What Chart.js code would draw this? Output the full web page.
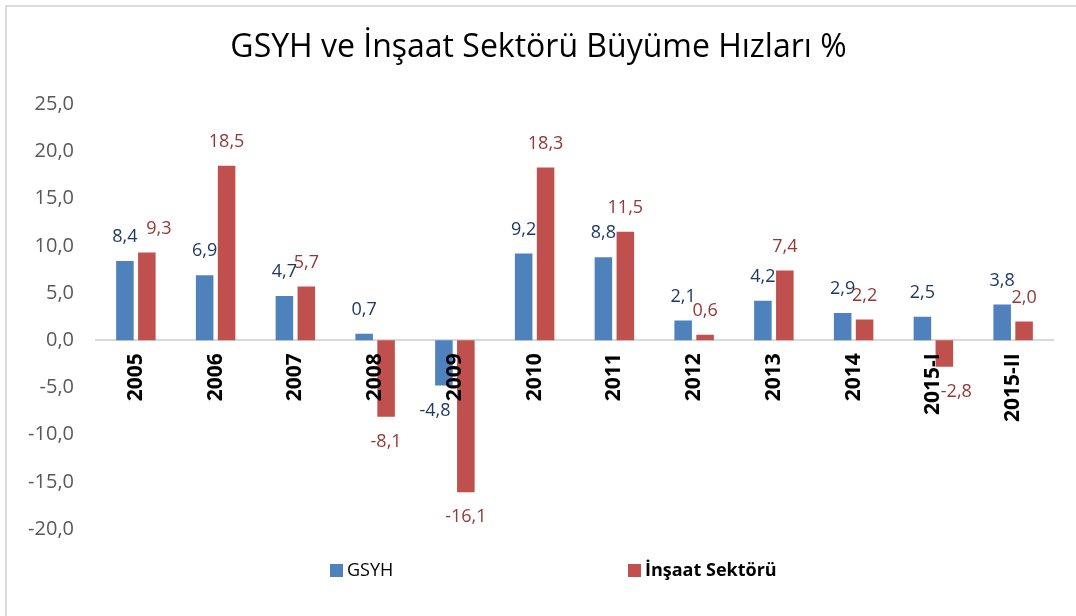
<!DOCTYPE html>
<html>
<head>
<meta charset="utf-8">
<script src="https://cdn.jsdelivr.net/npm/chart.js@4"></script>
<style>
  html, body { margin: 0; padding: 0; background: #fff; overflow: hidden; }
  #wrap { position: relative; width: 1076px; height: 616px; }
  #frame { position: absolute; left: 5px; top: 5px; width: 1100px; height: 700px;
           border: 2px solid #dcdcdc; pointer-events: none; }
</style>
</head>
<body>
<div id="wrap">
  <canvas id="chartGsyh" width="1076" height="616"></canvas>
  <div id="frame"></div>
</div>
<script>
// kategoriler ve seriler
var years = ["2005", "2006", "2007", "2008", "2009", "2010", "2011", "2012", "2013", "2014", "2015-I", "2015-II"];
var gsyh = [8.4, 6.9, 4.7, 0.7, -4.8, 9.2, 8.8, 2.1, 4.2, 2.9, 2.5, 3.8];
var insaat = [9.3, 18.5, 5.7, -8.1, -16.1, 18.3, 11.5, 0.6, 7.4, 2.2, -2.8, 2.0];
var yTicks = [-20, -15, -10, -5, 0, 5, 10, 15, 20, 25];

var FONT = "'Open Sans'";

function fmt(v) {
    return v.toFixed(1).replace(".", ",");
}

// bar etiketleri (datalabels eklentisi yok)
var valueLabels = {
    id: "valueLabels",
    afterDatasetsDraw: function (chart, args, opts) {
        var ctx = chart.ctx;
        ctx.save();
        ctx.font = "18px " + FONT;
        ctx.textAlign = "center";
        ctx.textBaseline = "middle";
        chart.data.datasets.forEach(function (ds, di) {
            var meta = chart.getDatasetMeta(di);
            ctx.fillStyle = opts.colors[di];
            meta.data.forEach(function (bar, i) {
                var v = ds.data[i];
                var dx = (opts.shift[di] && opts.shift[di][i]) || 0;
                var y = v >= 0 ? bar.y - 24 : bar.y + 25;
                ctx.fillText(fmt(v), bar.x + dx, y);
            });
        });
        ctx.restore();
    }
};

// lejant: ikinci kalem kalin
var customLegend = {
    id: "customLegend",
    afterDraw: function (chart, args, opts) {
        var ctx = chart.ctx;
        ctx.save();
        ctx.textBaseline = "middle";
        ctx.textAlign = "left";
        chart.data.datasets.forEach(function (ds, di) {
            var x = opts.xs[di];
            ctx.fillStyle = ds.backgroundColor;
            ctx.fillRect(x, opts.y - 7, 13, 13);
            ctx.fillStyle = "#000";
            ctx.font = opts.weights[di] + " 18px " + FONT;
            ctx.fillText(ds.label, x + 17, opts.y);
        });
        ctx.restore();
    }
};

var ctx_chart = document.getElementById("chartGsyh").getContext("2d");
var chart = new Chart(ctx_chart, {
    type: "bar",
    data: {
        labels: years,
        datasets: [{
            label: "GSYH",
            data: gsyh,
            backgroundColor: "#4F81BD",
            categoryPercentage: 0.55,
            barPercentage: 0.8
        }, {
            label: "İnşaat Sektörü",
            data: insaat,
            backgroundColor: "#C0504D",
            categoryPercentage: 0.55,
            barPercentage: 0.8
        }]
    },
    options: {
        responsive: false,
        animation: false,
        layout: {
            padding: { left: 24, right: 23, top: 26, bottom: 87 }
        },
        plugins: {
            legend: { display: false },
            tooltip: { enabled: false },
            title: {
                display: true,
                text: "GSYH ve İnşaat Sektörü Büyüme Hızları %",
                color: "#000",
                font: { family: FONT, size: 32, weight: "normal" },
                padding: { top: 3, bottom: 37 }
            },
            valueLabels: {
                colors: ["#1F3864", "#953735"],
                shift: [
                    [0, 0, 0, 0, -9, 0, 0, 0, 0, 0, 0, 0],
                    [12, 0, 0, 0, 0, 0, 0, 0, 0, 0, 12, 0]
                ]
            },
            customLegend: { xs: [330, 628], y: 571, weights: ["normal", "bold"] }
        },
        scales: {
            x: {
                position: { y: 0 },
                grid: { display: false, drawTicks: false },
                border: { display: true, color: "#d9d9d9", width: 2 },
                ticks: {
                    z: 1,
                    minRotation: 90,
                    maxRotation: 90,
                    padding: 13,
                    color: "#000",
                    font: { family: FONT, size: 21, weight: "bold" }
                }
            },
            y: {
                min: yTicks[0],
                max: yTicks[yTicks.length - 1],
                grid: { display: false, drawTicks: false },
                border: { display: false },
                afterBuildTicks: function (axis) {
                    axis.ticks = yTicks.map(function (v) { return { value: v }; });
                },
                afterFit: function (axis) {
                    axis.width = 72;
                },
                ticks: {
                    padding: 22,
                    color: "#595959",
                    font: { family: FONT, size: 20 },
                    callback: function (v) { return fmt(v); }
                }
            }
        }
    },
    plugins: [valueLabels, customLegend]
});
</script>
</body>
</html>
